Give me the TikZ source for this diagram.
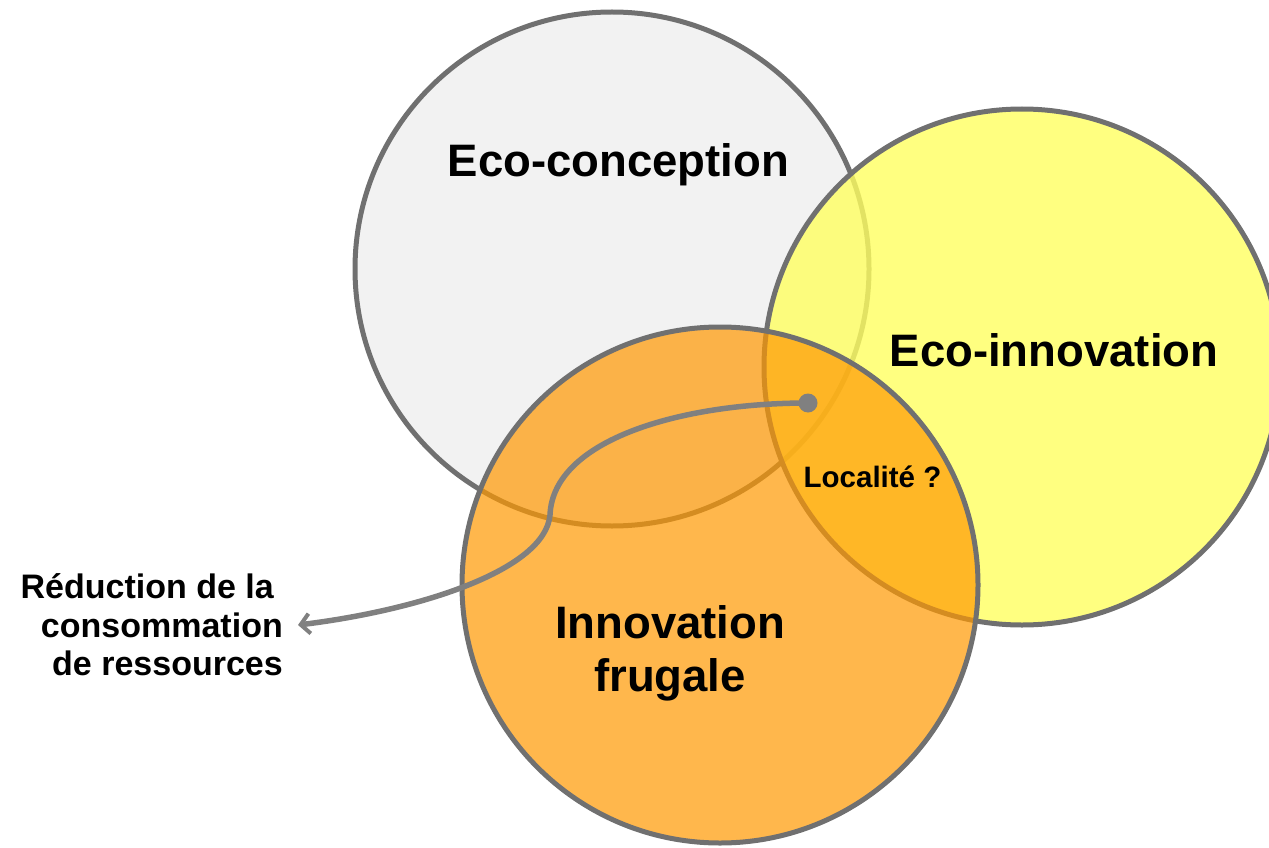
\documentclass[tikz,border=0pt]{standalone}
\usepackage{fontspec}
\setmainfont{Liberation Sans}
\usetikzlibrary{arrows.meta}
\definecolor{ringgray}{RGB}{112,112,112}
\definecolor{concfill}{RGB}{242,242,242}
\definecolor{innofill}{RGB}{255,255,96}
\definecolor{frugfill}{RGB}{255,152,0}
\definecolor{linkgray}{RGB}{128,128,128}
\begin{document}
\begin{tikzpicture}[x=1pt,y=-1pt,
  ring/.style={circle, draw=ringgray, line width=5pt, inner sep=0pt, minimum size=#1},
  biglabel/.style={font=\fontsize{45.5}{52}\selectfont\bfseries, inner sep=0pt},
  midlabel/.style={font=\fontsize{34}{39}\selectfont\bfseries, inner sep=0pt},
  smalllabel/.style={font=\fontsize{29.5}{34}\selectfont\bfseries, inner sep=0pt},
  link/.style={draw=linkgray, line width=5.5pt, line cap=round, line join=round},
  dotmark/.style={circle, fill=linkgray, inner sep=0pt, minimum size=19pt}]
\useasboundingbox (0,0) rectangle (1269,848);
\clip (0,0) rectangle (1269,848);
% circles
\node[ring=514, fill=concfill] (conc) at (612,269) {};
\node[ring=516, fill=innofill, fill opacity=0.8] (inno) at (1022,367) {};
\node[ring=516, fill=frugfill, fill opacity=0.7] (frug) at (720,585) {};
% connector
\node[dotmark] (dot) at (808,403) {};
\coordinate (bend) at (550,515);
\coordinate (tip) at (298,625);
\draw[link, -{Straight Barb[length=9pt,width=20pt,line width=4pt]}]
  (dot.center) .. controls (680,403) and (553,440) .. (bend)
  .. controls (545,570) and (420,610) .. (tip);
% labels
\node[biglabel, anchor=base] (tconc) at (618.5,176) {Eco-conception};
\node[biglabel, anchor=base] (tinno) at (1054,366) {Eco-innovation};
\node[biglabel, anchor=base] (tfrug1) at (670,638) {Innovation};
\node[biglabel, anchor=base] (tfrug2) at (670,691) {frugale};
\node[smalllabel, anchor=base] (tloc) at (872.5,487) {Localité ?};
\node[midlabel, anchor=base east] (tred1) at (274,598) {Réduction de la};
\node[midlabel, anchor=base east] (tred2) at (283,637) {consommation};
\node[midlabel, anchor=base east] (tred3) at (283,675) {de ressources};
\end{tikzpicture}
\end{document}
